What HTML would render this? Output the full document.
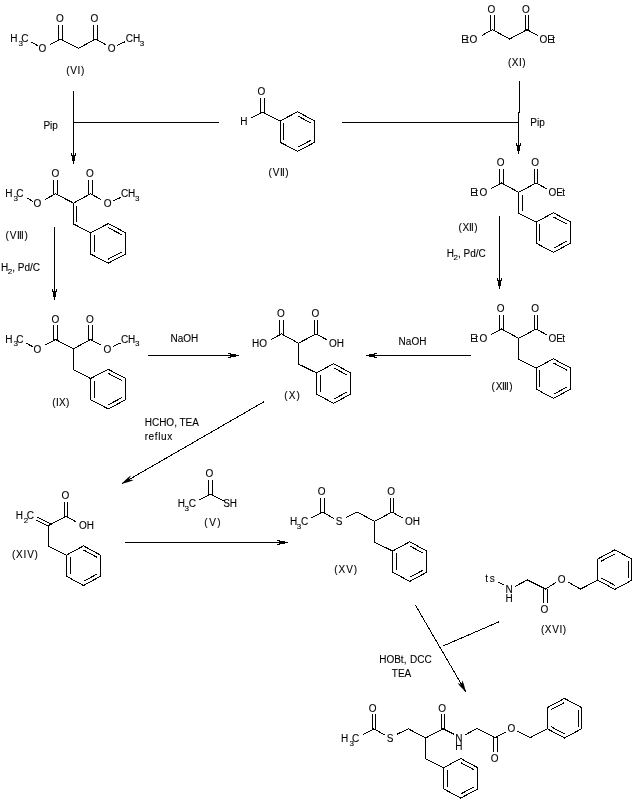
<!DOCTYPE html>
<html><head><meta charset="utf-8"><title>Synthesis scheme</title>
<style>html,body{margin:0;padding:0;background:#fff}svg{display:block;will-change:transform}text{font-family:"Liberation Sans",sans-serif;fill:#000}</style></head><body>
<svg width="642" height="808" viewBox="0 0 642 808">
<rect width="642" height="808" fill="#fff"/>
<g stroke="#000" stroke-width="1" stroke-linecap="square" fill="none" shape-rendering="crispEdges">
<line x1="58.5" y1="39.1" x2="58.5" y2="25.3"/>
<line x1="62.5" y1="39.1" x2="62.5" y2="25.3"/>
<line x1="93.5" y1="39.1" x2="93.5" y2="25.3"/>
<line x1="97.5" y1="39.1" x2="97.5" y2="25.3"/>
<line x1="78.4" y1="48.4" x2="60.5" y2="39.1"/>
<line x1="78.4" y1="48.4" x2="95.5" y2="39.1"/>
<line x1="60.5" y1="39.1" x2="50.3" y2="44.6"/>
<line x1="37.2" y1="45.4" x2="31.8" y2="42.4"/>
<line x1="95.5" y1="39.1" x2="105.7" y2="44.6"/>
<line x1="117.7" y1="45.1" x2="124.3" y2="42.1"/>
<line x1="490.5" y1="29.7" x2="490.5" y2="15.9"/>
<line x1="494.5" y1="29.7" x2="494.5" y2="15.9"/>
<line x1="525.5" y1="29.7" x2="525.5" y2="15.9"/>
<line x1="528.5" y1="29.7" x2="528.5" y2="15.9"/>
<line x1="509.6" y1="39" x2="492.5" y2="29.7"/>
<line x1="509.6" y1="39" x2="527" y2="29.7"/>
<line x1="492.5" y1="29.7" x2="482.3" y2="35.2"/>
<line x1="527" y1="29.7" x2="537.2" y2="35.2"/>
<line x1="297.5" y1="111.8" x2="314.9" y2="121"/>
<line x1="298.01" y1="116.14" x2="310.81" y2="122.91"/>
<line x1="314.5" y1="121" x2="314.5" y2="142.2"/>
<line x1="314.9" y1="142.2" x2="297.5" y2="151.4"/>
<line x1="310.81" y1="140.29" x2="298.01" y2="147.06"/>
<line x1="297.5" y1="151.4" x2="280.1" y2="142.2"/>
<line x1="280.5" y1="142.2" x2="280.5" y2="121"/>
<line x1="283.5" y1="139.6" x2="283.5" y2="123.6"/>
<line x1="280.1" y1="121" x2="297.5" y2="111.8"/>
<line x1="280.1" y1="121" x2="262.3" y2="112.2"/>
<line x1="260.5" y1="112.2" x2="260.5" y2="98.2"/>
<line x1="264.5" y1="112.2" x2="264.5" y2="98.2"/>
<line x1="262.3" y1="112.2" x2="251.1" y2="118"/>
<line x1="53.5" y1="193.8" x2="53.5" y2="180"/>
<line x1="57.5" y1="193.8" x2="57.5" y2="180"/>
<line x1="88.5" y1="193.8" x2="88.5" y2="180"/>
<line x1="92.5" y1="193.8" x2="92.5" y2="180"/>
<line x1="73.5" y1="203.1" x2="55.5" y2="193.8"/>
<line x1="73.5" y1="203.1" x2="90.5" y2="193.8"/>
<line x1="55.5" y1="193.8" x2="45.3" y2="199.3"/>
<line x1="32.3" y1="201" x2="26.9" y2="198"/>
<line x1="90.5" y1="193.8" x2="100.7" y2="199.3"/>
<line x1="113.6" y1="200.7" x2="120.2" y2="197.7"/>
<line x1="73.5" y1="203.1" x2="73.5" y2="224"/>
<line x1="76.5" y1="206.1" x2="76.5" y2="221.4"/>
<line x1="108.2" y1="223.6" x2="125.8" y2="232.8"/>
<line x1="108.7" y1="227.92" x2="121.69" y2="234.71"/>
<line x1="125.5" y1="232.8" x2="125.5" y2="254"/>
<line x1="125.8" y1="254" x2="108.2" y2="263.2"/>
<line x1="121.69" y1="252.09" x2="108.7" y2="258.88"/>
<line x1="108.2" y1="263.2" x2="90.6" y2="254"/>
<line x1="90.5" y1="254" x2="90.5" y2="232.8"/>
<line x1="94.5" y1="251.4" x2="94.5" y2="235.4"/>
<line x1="90.6" y1="232.8" x2="108.2" y2="223.6"/>
<line x1="73.5" y1="224" x2="90.6" y2="232.8"/>
<line x1="499.5" y1="183" x2="499.5" y2="169.2"/>
<line x1="503.5" y1="183" x2="503.5" y2="169.2"/>
<line x1="534.5" y1="183" x2="534.5" y2="169.2"/>
<line x1="537.5" y1="183" x2="537.5" y2="169.2"/>
<line x1="518.7" y1="192.3" x2="501.5" y2="183"/>
<line x1="518.7" y1="192.3" x2="536" y2="183"/>
<line x1="501.5" y1="183" x2="491.3" y2="188.5"/>
<line x1="536" y1="183" x2="547.2" y2="189"/>
<line x1="518.5" y1="192.3" x2="518.5" y2="213.2"/>
<line x1="522.5" y1="195.3" x2="522.5" y2="210.6"/>
<line x1="553.4" y1="212.8" x2="570.6" y2="222"/>
<line x1="553.92" y1="217.16" x2="566.53" y2="223.91"/>
<line x1="570.5" y1="222" x2="570.5" y2="243.2"/>
<line x1="570.6" y1="243.2" x2="553.4" y2="252.4"/>
<line x1="566.53" y1="241.29" x2="553.92" y2="248.04"/>
<line x1="553.4" y1="252.4" x2="536.2" y2="243.2"/>
<line x1="536.5" y1="243.2" x2="536.5" y2="222"/>
<line x1="539.5" y1="240.6" x2="539.5" y2="224.6"/>
<line x1="536.2" y1="222" x2="553.4" y2="212.8"/>
<line x1="518.7" y1="213.2" x2="536.2" y2="222"/>
<line x1="53.5" y1="339.5" x2="53.5" y2="325.7"/>
<line x1="57.5" y1="339.5" x2="57.5" y2="325.7"/>
<line x1="88.5" y1="339.5" x2="88.5" y2="325.7"/>
<line x1="92.5" y1="339.5" x2="92.5" y2="325.7"/>
<line x1="73.5" y1="348.8" x2="55.5" y2="339.5"/>
<line x1="73.5" y1="348.8" x2="90.5" y2="339.5"/>
<line x1="55.5" y1="339.5" x2="45.3" y2="345"/>
<line x1="32.3" y1="346.5" x2="26.9" y2="343.5"/>
<line x1="90.5" y1="339.5" x2="100.7" y2="345"/>
<line x1="113.4" y1="346.2" x2="120" y2="343.2"/>
<line x1="73.5" y1="348.8" x2="73.5" y2="369.7"/>
<line x1="108.2" y1="369.3" x2="125.8" y2="378.5"/>
<line x1="108.7" y1="373.62" x2="121.69" y2="380.41"/>
<line x1="125.5" y1="378.5" x2="125.5" y2="399.7"/>
<line x1="125.8" y1="399.7" x2="108.2" y2="408.9"/>
<line x1="121.69" y1="397.79" x2="108.7" y2="404.58"/>
<line x1="108.2" y1="408.9" x2="90.6" y2="399.7"/>
<line x1="90.5" y1="399.7" x2="90.5" y2="378.5"/>
<line x1="94.5" y1="397.1" x2="94.5" y2="381.1"/>
<line x1="90.6" y1="378.5" x2="108.2" y2="369.3"/>
<line x1="73.5" y1="369.7" x2="90.6" y2="378.5"/>
<line x1="279.5" y1="333.9" x2="279.5" y2="320.1"/>
<line x1="283.5" y1="333.9" x2="283.5" y2="320.1"/>
<line x1="314.5" y1="333.9" x2="314.5" y2="320.1"/>
<line x1="317.5" y1="333.9" x2="317.5" y2="320.1"/>
<line x1="298.5" y1="343.2" x2="281.5" y2="333.9"/>
<line x1="298.5" y1="343.2" x2="316" y2="333.9"/>
<line x1="281.5" y1="333.9" x2="271.3" y2="339.4"/>
<line x1="316" y1="333.9" x2="326.2" y2="339.4"/>
<line x1="298.5" y1="343.2" x2="298.5" y2="364.1"/>
<line x1="333.6" y1="363.7" x2="350.7" y2="372.9"/>
<line x1="334.12" y1="368.07" x2="346.65" y2="374.81"/>
<line x1="350.5" y1="372.9" x2="350.5" y2="394.1"/>
<line x1="350.7" y1="394.1" x2="333.6" y2="403.3"/>
<line x1="346.65" y1="392.19" x2="334.12" y2="398.93"/>
<line x1="333.6" y1="403.3" x2="316.5" y2="394.1"/>
<line x1="316.5" y1="394.1" x2="316.5" y2="372.9"/>
<line x1="320.5" y1="391.5" x2="320.5" y2="375.5"/>
<line x1="316.5" y1="372.9" x2="333.6" y2="363.7"/>
<line x1="298.5" y1="364.1" x2="316.5" y2="372.9"/>
<line x1="499.5" y1="329" x2="499.5" y2="315.2"/>
<line x1="503.5" y1="329" x2="503.5" y2="315.2"/>
<line x1="534.5" y1="329" x2="534.5" y2="315.2"/>
<line x1="537.5" y1="329" x2="537.5" y2="315.2"/>
<line x1="518.7" y1="338.3" x2="501.5" y2="329"/>
<line x1="518.7" y1="338.3" x2="536" y2="329"/>
<line x1="501.5" y1="329" x2="491.3" y2="334.5"/>
<line x1="536" y1="329" x2="547.2" y2="335"/>
<line x1="518.5" y1="338.3" x2="518.5" y2="359.2"/>
<line x1="553.4" y1="358.8" x2="570.5" y2="368"/>
<line x1="553.92" y1="363.17" x2="566.45" y2="369.91"/>
<line x1="570.5" y1="368" x2="570.5" y2="389.2"/>
<line x1="570.5" y1="389.2" x2="553.4" y2="398.4"/>
<line x1="566.45" y1="387.29" x2="553.92" y2="394.03"/>
<line x1="553.4" y1="398.4" x2="536.3" y2="389.2"/>
<line x1="536.5" y1="389.2" x2="536.5" y2="368"/>
<line x1="539.5" y1="386.6" x2="539.5" y2="370.6"/>
<line x1="536.3" y1="368" x2="553.4" y2="358.8"/>
<line x1="518.7" y1="359.2" x2="536.3" y2="368"/>
<line x1="64.5" y1="516.4" x2="64.5" y2="502.4"/>
<line x1="67.5" y1="516.4" x2="67.5" y2="502.4"/>
<line x1="48.8" y1="525.4" x2="66" y2="516.4"/>
<line x1="66" y1="516.4" x2="76" y2="521.8"/>
<line x1="38" y1="517.5" x2="50.8" y2="524.1"/>
<line x1="36.2" y1="520.3" x2="48.8" y2="526.4"/>
<line x1="48.5" y1="525.4" x2="48.5" y2="546.3"/>
<line x1="83.5" y1="545.9" x2="100.5" y2="555.1"/>
<line x1="84.03" y1="550.28" x2="96.46" y2="557"/>
<line x1="100.5" y1="555.1" x2="100.5" y2="576.3"/>
<line x1="100.5" y1="576.3" x2="83.5" y2="585.5"/>
<line x1="96.46" y1="574.4" x2="84.03" y2="581.12"/>
<line x1="83.5" y1="585.5" x2="66.5" y2="576.3"/>
<line x1="66.5" y1="576.3" x2="66.5" y2="555.1"/>
<line x1="70.5" y1="573.7" x2="70.5" y2="557.7"/>
<line x1="66.5" y1="555.1" x2="83.5" y2="545.9"/>
<line x1="48.8" y1="546.3" x2="66.5" y2="555.1"/>
<line x1="208.5" y1="494.2" x2="208.5" y2="480.2"/>
<line x1="212.5" y1="494.2" x2="212.5" y2="480.2"/>
<line x1="210.5" y1="494.2" x2="200" y2="499.6"/>
<line x1="210.5" y1="494.2" x2="224" y2="500.8"/>
<line x1="390.5" y1="512.1" x2="390.5" y2="498.1"/>
<line x1="393.5" y1="512.1" x2="393.5" y2="498.1"/>
<line x1="374.5" y1="521.3" x2="392" y2="512.1"/>
<line x1="374.5" y1="521.3" x2="357.2" y2="512.1"/>
<line x1="357.2" y1="512.1" x2="346.2" y2="517.4"/>
<line x1="320.5" y1="512.1" x2="320.5" y2="498.1"/>
<line x1="324.5" y1="512.1" x2="324.5" y2="498.1"/>
<line x1="333.9" y1="518.5" x2="322.5" y2="512.1"/>
<line x1="322.5" y1="512.1" x2="312" y2="517.5"/>
<line x1="374.5" y1="521.3" x2="374.5" y2="542.2"/>
<line x1="409.7" y1="541.8" x2="426.8" y2="551"/>
<line x1="410.22" y1="546.17" x2="422.75" y2="552.91"/>
<line x1="426.5" y1="551" x2="426.5" y2="572.2"/>
<line x1="426.8" y1="572.2" x2="409.7" y2="581.4"/>
<line x1="422.75" y1="570.29" x2="410.22" y2="577.03"/>
<line x1="409.7" y1="581.4" x2="392.6" y2="572.2"/>
<line x1="392.5" y1="572.2" x2="392.5" y2="551"/>
<line x1="396.5" y1="569.6" x2="396.5" y2="553.6"/>
<line x1="392.6" y1="551" x2="409.7" y2="541.8"/>
<line x1="374.5" y1="542.2" x2="392.6" y2="551"/>
<line x1="392" y1="512.1" x2="402" y2="517.5"/>
<line x1="498.8" y1="582.6" x2="504" y2="585"/>
<line x1="515.8" y1="586" x2="527.4" y2="579.9"/>
<line x1="543.5" y1="589" x2="543.5" y2="602.4"/>
<line x1="547.5" y1="589" x2="547.5" y2="602.4"/>
<line x1="527.4" y1="579.9" x2="545.5" y2="589"/>
<line x1="545.5" y1="589" x2="555.4" y2="582.9"/>
<line x1="568" y1="581.9" x2="580.4" y2="589.1"/>
<line x1="614.8" y1="549.8" x2="631.9" y2="559"/>
<line x1="631.5" y1="559" x2="631.5" y2="580.2"/>
<line x1="628.5" y1="561.6" x2="628.5" y2="577.6"/>
<line x1="631.9" y1="580.2" x2="614.8" y2="589.4"/>
<line x1="614.8" y1="589.4" x2="597.7" y2="580.2"/>
<line x1="614.28" y1="585.03" x2="601.75" y2="578.29"/>
<line x1="597.5" y1="580.2" x2="597.5" y2="559"/>
<line x1="597.7" y1="559" x2="614.8" y2="549.8"/>
<line x1="601.75" y1="560.91" x2="614.28" y2="554.17"/>
<line x1="580.4" y1="589.1" x2="597.7" y2="580.2"/>
<line x1="441.5" y1="728.8" x2="441.5" y2="714.8"/>
<line x1="444.5" y1="728.8" x2="444.5" y2="714.8"/>
<line x1="425.6" y1="738" x2="443" y2="728.8"/>
<line x1="425.6" y1="738" x2="408.3" y2="728.8"/>
<line x1="408.3" y1="728.8" x2="397.3" y2="734.1"/>
<line x1="372.5" y1="728.8" x2="372.5" y2="714.8"/>
<line x1="375.5" y1="728.8" x2="375.5" y2="714.8"/>
<line x1="385" y1="735.2" x2="374" y2="728.8"/>
<line x1="374" y1="728.8" x2="363.5" y2="734.2"/>
<line x1="425.5" y1="738" x2="425.5" y2="758.9"/>
<line x1="460.7" y1="758.5" x2="477.7" y2="767.7"/>
<line x1="461.23" y1="762.88" x2="473.66" y2="769.6"/>
<line x1="477.5" y1="767.7" x2="477.5" y2="788.9"/>
<line x1="477.7" y1="788.9" x2="460.7" y2="798.1"/>
<line x1="473.66" y1="787" x2="461.23" y2="793.72"/>
<line x1="460.7" y1="798.1" x2="443.7" y2="788.9"/>
<line x1="443.5" y1="788.9" x2="443.5" y2="767.7"/>
<line x1="447.5" y1="786.3" x2="447.5" y2="770.3"/>
<line x1="443.7" y1="767.7" x2="460.7" y2="758.5"/>
<line x1="425.6" y1="758.9" x2="443.7" y2="767.7"/>
<line x1="443" y1="728.8" x2="454" y2="734.2"/>
<line x1="465.5" y1="734.6" x2="477.1" y2="728.5"/>
<line x1="493.5" y1="737.6" x2="493.5" y2="751"/>
<line x1="497.5" y1="737.6" x2="497.5" y2="751"/>
<line x1="477.1" y1="728.5" x2="495.5" y2="737.6"/>
<line x1="495.5" y1="737.6" x2="505.1" y2="732.3"/>
<line x1="517.7" y1="731.3" x2="530.1" y2="737.7"/>
<line x1="564.5" y1="698.4" x2="581.6" y2="707.6"/>
<line x1="581.5" y1="707.6" x2="581.5" y2="728.8"/>
<line x1="578.5" y1="710.2" x2="578.5" y2="726.2"/>
<line x1="581.6" y1="728.8" x2="564.5" y2="738"/>
<line x1="564.5" y1="738" x2="547.4" y2="728.8"/>
<line x1="563.98" y1="733.63" x2="551.45" y2="726.89"/>
<line x1="547.5" y1="728.8" x2="547.5" y2="707.6"/>
<line x1="547.4" y1="707.6" x2="564.5" y2="698.4"/>
<line x1="551.45" y1="709.51" x2="563.98" y2="702.77"/>
<line x1="530.1" y1="737.7" x2="547.4" y2="728.8"/>
<line x1="73.5" y1="91" x2="73.5" y2="163.5"/>
<line x1="73.5" y1="122.5" x2="218" y2="122.5"/>
<line x1="519.5" y1="81" x2="519.5" y2="112"/>
<line x1="518.5" y1="112" x2="518.5" y2="153.5"/>
<line x1="342" y1="122.5" x2="518.5" y2="122.5"/>
<line x1="54.5" y1="227" x2="54.5" y2="299.5"/>
<line x1="499.5" y1="216" x2="499.5" y2="288.5"/>
<line x1="148.6" y1="355.5" x2="238.5" y2="355.5"/>
<line x1="470" y1="355.5" x2="366.5" y2="355.5"/>
<line x1="263.5" y1="402" x2="122.43" y2="483.35"/>
<line x1="125" y1="542.5" x2="287.5" y2="542.5"/>
<line x1="415.8" y1="605.8" x2="465.55" y2="691.37"/>
<line x1="498.8" y1="621.9" x2="444" y2="645.6"/>
</g>
<g fill="#000" stroke="none">
<polygon points="73,164 73,161 72,161 72,156 71,156 71,153 72,153 72,155 73,155 74,155 75,155 75,153 76,153 76,156 75,156 75,161 74,161 74,164"/>
<polygon points="518,154 518,151 517,151 517,146 516,146 516,143 517,143 517,145 518,145 519,145 520,145 520,143 521,143 521,146 520,146 520,151 519,151 519,154"/>
<polygon points="54,300 54,297 53,297 53,292 52,292 52,289 53,289 53,291 54,291 55,291 56,291 56,289 57,289 57,292 56,292 56,297 55,297 55,300"/>
<polygon points="499,289 499,286 498,286 498,281 497,281 497,278 498,278 498,280 499,280 500,280 501,280 501,278 502,278 502,281 501,281 501,286 500,286 500,289"/>
<polygon points="239,356 236,356 236,357 231,357 231,358 228,358 228,357 230,357 230,356 230,355 230,354 228,354 228,353 231,353 231,354 236,354 236,355 239,355"/>
<polygon points="366,355 369,355 369,354 374,354 374,353 377,353 377,354 375,354 375,355 375,356 375,357 377,357 377,358 374,358 374,357 369,357 369,356 366,356"/>
<polygon points="121.85,483.34 124.15,481.32 127.83,477.7 130.61,475.52 130.33,476.83 129.25,478.15 129.6,478.76 130,479.45 130.35,480.06 132.03,479.78 133.31,480.19 130.03,481.51 125.05,482.88 122.15,483.86"/>
<polygon points="288,543 285,543 285,544 280,544 280,545 277,545 277,544 279,544 279,543 279,542 279,541 277,541 277,540 280,540 280,541 285,541 285,542 288,542"/>
<polygon points="465.54,691.95 463.51,689.66 459.88,685.99 457.69,683.22 459,683.49 460.33,684.57 460.93,684.22 461.62,683.82 462.23,683.47 461.94,681.78 462.35,680.5 463.68,683.78 465.07,688.75 466.06,691.65"/>
</g>
<g stroke="#000" stroke-width="0.1">
<text x="59.9" y="21.7" font-size="10" text-anchor="middle">O</text>
<text x="94.4" y="21.7" font-size="10" text-anchor="middle">O</text>
<text x="42.4" y="51.7" font-size="10" text-anchor="middle">O</text>
<text x="10.2" y="42.1" font-size="10">H</text>
<text x="18.5" y="46" font-size="8">3</text>
<text x="21.2" y="42.1" font-size="10">C</text>
<text x="111.7" y="51.7" font-size="10" text-anchor="middle">O</text>
<text x="125.8" y="42.1" font-size="10">CH</text>
<text x="139.8" y="46" font-size="8">3</text>
<text x="66.36" y="73.7" font-size="10" letter-spacing="0.62">(VI)</text>
<text x="491.4" y="12.9" font-size="10" text-anchor="middle">O</text>
<text x="525.9" y="12.9" font-size="10" text-anchor="middle">O</text>
<text x="461.15" y="42.7" font-size="10">E</text>
<text x="466.05" y="42.7" font-size="10">t</text>
<text x="469.5" y="42.7" font-size="10">O</text>
<text x="539.5" y="42.7" font-size="10">O</text>
<text x="547.3" y="42.7" font-size="10">E</text>
<text x="552.2" y="42.7" font-size="10">t</text>
<text x="507.9" y="65.5" font-size="10" letter-spacing="0.52">(XI)</text>
<text x="261.4" y="94.8" font-size="10" text-anchor="middle">O</text>
<text x="240.3" y="125.2" font-size="10">H</text>
<text x="268.55 272.8 280.1 282.1 285.35" y="175.9" font-size="10">(VII)</text>
<text x="55.4" y="177.1" font-size="10" text-anchor="middle">O</text>
<text x="89.9" y="177.1" font-size="10" text-anchor="middle">O</text>
<text x="37.5" y="207.3" font-size="10" text-anchor="middle">O</text>
<text x="5.3" y="196.8" font-size="10">H</text>
<text x="13.6" y="200.7" font-size="8">3</text>
<text x="16.3" y="196.8" font-size="10">C</text>
<text x="107.6" y="207.3" font-size="10" text-anchor="middle">O</text>
<text x="120.9" y="196.8" font-size="10">CH</text>
<text x="134.9" y="200.7" font-size="8">3</text>
<text x="5.4 9.8 17.1 19.1 21.1 24.5" y="238.9" font-size="10">(VIII)</text>
<text x="500.7" y="165.6" font-size="10" text-anchor="middle">O</text>
<text x="535.2" y="165.6" font-size="10" text-anchor="middle">O</text>
<text x="470.25" y="196" font-size="10">E</text>
<text x="475.15" y="196" font-size="10">t</text>
<text x="479.5" y="196" font-size="10">O</text>
<text x="548.4" y="196" font-size="10">O</text>
<text x="556.2" y="196" font-size="10">E</text>
<text x="562.3" y="196" font-size="10">t</text>
<text x="458.6 462.45 469.1 471.1 474.35" y="230.9" font-size="10">(XII)</text>
<text x="55.4" y="322.5" font-size="10" text-anchor="middle">O</text>
<text x="89.9" y="322.5" font-size="10" text-anchor="middle">O</text>
<text x="37.5" y="352.8" font-size="10" text-anchor="middle">O</text>
<text x="5.3" y="342.5" font-size="10">H</text>
<text x="13.6" y="346.4" font-size="8">3</text>
<text x="16.3" y="342.5" font-size="10">C</text>
<text x="107.4" y="352.8" font-size="10" text-anchor="middle">O</text>
<text x="120.9" y="342.5" font-size="10">CH</text>
<text x="134.9" y="346.4" font-size="8">3</text>
<text x="52.36" y="406" font-size="10" letter-spacing="0.3">(IX)</text>
<text x="280.9" y="316.5" font-size="10" text-anchor="middle">O</text>
<text x="315.4" y="316.5" font-size="10" text-anchor="middle">O</text>
<text x="267.1" y="346.5" font-size="10" text-anchor="end">HO</text>
<text x="328.9" y="346.5" font-size="10">OH</text>
<text x="284.36" y="399" font-size="10" letter-spacing="1.1">(X)</text>
<text x="500.7" y="311.8" font-size="10" text-anchor="middle">O</text>
<text x="535.2" y="311.8" font-size="10" text-anchor="middle">O</text>
<text x="470.25" y="342" font-size="10">E</text>
<text x="475.15" y="342" font-size="10">t</text>
<text x="479.5" y="342" font-size="10">O</text>
<text x="548.4" y="342" font-size="10">O</text>
<text x="556.2" y="342" font-size="10">E</text>
<text x="562.3" y="342" font-size="10">t</text>
<text x="491.5 495.7 502.1 504.1 506.1 509.3" y="389.6" font-size="10">(XIII)</text>
<text x="65.3" y="499" font-size="10" text-anchor="middle">O</text>
<text x="78.9" y="529" font-size="10">OH</text>
<text x="15.8" y="519.1" font-size="10">H</text>
<text x="23.8" y="522.8" font-size="8">2</text>
<text x="26.8" y="519.1" font-size="10">C</text>
<text x="11.9" y="557.9" font-size="10" letter-spacing="0.82">(XIV)</text>
<text x="209.5" y="476.8" font-size="10" text-anchor="middle">O</text>
<text x="177.8" y="506.6" font-size="10">H</text>
<text x="184.6" y="510.6" font-size="8">3</text>
<text x="188.8" y="506.6" font-size="10">C</text>
<text x="223.2" y="506.6" font-size="10">SH</text>
<text x="204.36" y="525.9" font-size="10" letter-spacing="1.5">(V)</text>
<text x="391.2" y="494.8" font-size="10" text-anchor="middle">O</text>
<text x="339" y="525.3" font-size="10" text-anchor="middle">S</text>
<text x="321.6" y="494.8" font-size="10" text-anchor="middle">O</text>
<text x="289.9" y="524.5" font-size="10">H</text>
<text x="296.7" y="528.5" font-size="8">3</text>
<text x="300.9" y="524.5" font-size="10">C</text>
<text x="404.9" y="524.9" font-size="10">OH</text>
<text x="334.28" y="573.2" font-size="10" letter-spacing="0.93">(XV)</text>
<text x="485.3" y="582" font-size="10">t</text>
<text x="489.7" y="582" font-size="10">s</text>
<text x="509.2" y="592.6" font-size="10" text-anchor="middle">N</text>
<text x="509.2" y="602" font-size="10" text-anchor="middle">H</text>
<text x="544.3" y="613.2" font-size="10" text-anchor="middle">O</text>
<text x="561.6" y="582.6" font-size="10" text-anchor="middle">O</text>
<text x="540.9" y="633.3" font-size="10" letter-spacing="0.62">(XVI)</text>
<text x="442.2" y="712.1" font-size="10" text-anchor="middle">O</text>
<text x="390.1" y="742" font-size="10" text-anchor="middle">S</text>
<text x="372.6" y="712.1" font-size="10" text-anchor="middle">O</text>
<text x="341" y="741.7" font-size="10">H</text>
<text x="349.4" y="745.7" font-size="8">3</text>
<text x="352" y="741.7" font-size="10">C</text>
<text x="458.9" y="742.4" font-size="10" text-anchor="middle">N</text>
<text x="458.9" y="750.3" font-size="10" text-anchor="middle">H</text>
<text x="494.7" y="761.8" font-size="10" text-anchor="middle">O</text>
<text x="511.3" y="732" font-size="10" text-anchor="middle">O</text>
<text x="43.4" y="128.6" font-size="10">Pip</text>
<text x="530.3" y="125.7" font-size="10">Pip</text>
<text x="1" y="271" font-size="10">H</text>
<text x="7.8" y="273.5" font-size="8">2</text>
<text x="12.2" y="271" font-size="10">, Pd/C</text>
<text x="446.8" y="257" font-size="10">H</text>
<text x="453.6" y="259.5" font-size="8">2</text>
<text x="458" y="257" font-size="10">, Pd/C</text>
<text x="170.5" y="341.6" font-size="10">NaOH</text>
<text x="398.6" y="344.5" font-size="10">NaOH</text>
<text x="144.7" y="425.6" font-size="10">HCHO, TEA</text>
<text x="144.7" y="439.8" font-size="10" letter-spacing="0.6">reflux</text>
<text x="379.2" y="662.8" font-size="10">HOBt,</text>
<text x="410" y="662.8" font-size="10">DCC</text>
<text x="391.8" y="676.6" font-size="10">TEA</text>
</g>
</svg></body></html>
